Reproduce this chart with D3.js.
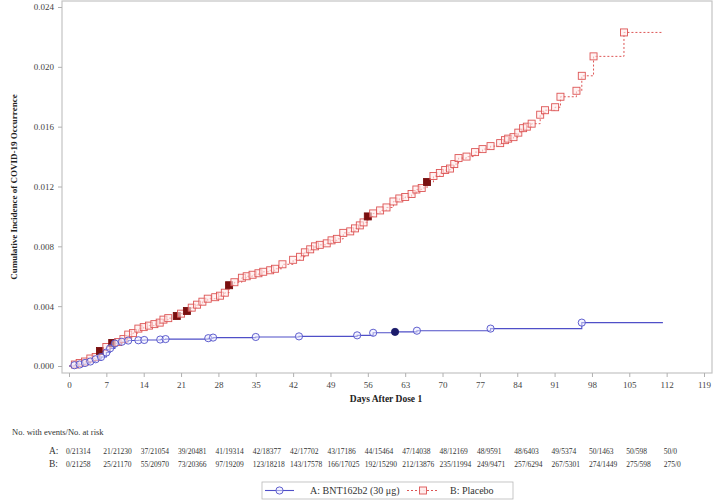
<!DOCTYPE html>
<html>
  <head>
    <meta charset="utf-8" />
    <title>Cumulative Incidence of COVID-19 Occurrence</title>
    <script src="https://d3js.org/d3.v7.min.js" charset="utf-8"></script>
    <style>
      html,
      body {
        margin: 0;
        padding: 0;
        background-color: #ffffff;
        font-family: "Liberation Serif", "DejaVu Serif", serif;
      }
    </style>
  </head>
  <body>
    <svg id="chart"></svg>
    <script>
      // ---- data ----
      // vaccine (A) event days and cumulative incidence
      const vacDays = [0, 1, 2, 3, 4, 5, 6, 7, 7.7, 8.6, 9.9, 11.1, 13, 14.1, 17.1, 18.1, 26.1, 27, 35, 43.1, 54, 57, 61.1, 65.2, 79, 96.1];
      const vacInc = [0, 0.00005, 0.0001, 0.0002, 0.0003, 0.00045, 0.0006, 0.0009, 0.00118, 0.0015, 0.00162, 0.0017, 0.00172, 0.00174, 0.00177, 0.0018, 0.00186, 0.0019, 0.00194, 0.00198, 0.00205, 0.00222, 0.00228, 0.00236, 0.0025, 0.0029];
      const vacFilled = [61.1];

      // placebo (B) event days and cumulative incidence
      const plaDays = [0, 1.1, 2, 3, 4, 5, 5.8, 7, 8.1, 9.2, 10.2, 11.1, 12, 13, 14, 15, 16, 17, 17.7, 18.6, 20.2, 21, 22.1, 23, 24, 25, 26, 27.4, 28.3, 29.2, 30, 31, 32.4, 33.3, 34.4, 35.5, 36.4, 37.7, 38.6, 40, 42, 43.3, 44.2, 45.2, 46.1, 47, 48.3, 49.2, 50.2, 51.4, 52.7, 53.6, 54.5, 55.2, 56, 57, 58.3, 59.5, 60.8, 61.9, 63, 64.2, 65.1, 66.1, 67.1, 68.3, 69.5, 70.5, 71.4, 72.2, 73, 74.5, 76.1, 77.5, 79, 80.8, 81.7, 82.3, 83.3, 84.2, 85.1, 85.8, 86.7, 88.3, 89.2, 91.1, 92.1, 95.1, 96.1, 98.3, 104];
      const plaInc = [0, 0.0001, 0.0002, 0.0003, 0.0005, 0.0006, 0.001, 0.00127, 0.00154, 0.0016, 0.0018, 0.0021, 0.0022, 0.0025, 0.0026, 0.0027, 0.0028, 0.0029, 0.0031, 0.0032, 0.00334, 0.0035, 0.00368, 0.0039, 0.0041, 0.0043, 0.0045, 0.0046, 0.0047, 0.0049, 0.0054, 0.0056, 0.0059, 0.006, 0.0061, 0.0062, 0.0063, 0.0064, 0.0065, 0.0068, 0.0071, 0.0073, 0.0076, 0.0078, 0.008, 0.0081, 0.0082, 0.0084, 0.0085, 0.0089, 0.009, 0.0092, 0.0094, 0.0096, 0.01, 0.0102, 0.0104, 0.0106, 0.011, 0.0112, 0.0113, 0.0115, 0.0118, 0.0119, 0.0123, 0.0127, 0.0129, 0.0131, 0.0132, 0.0135, 0.0139, 0.014, 0.0143, 0.0145, 0.0147, 0.0149, 0.0151, 0.0152, 0.0153, 0.0156, 0.0159, 0.016, 0.0162, 0.0168, 0.0171, 0.0173, 0.018, 0.0184, 0.0194, 0.0207, 0.0223];
      const plaFilled = [5.8, 8.1, 20.2, 22.1, 30, 56, 67.1];

      const lastDay = 111.3;

      // axis ticks
      const xTicks = d3.range(0, 120, 7);
      const yTicks = [0, 0.004, 0.008, 0.012, 0.016, 0.02, 0.024];

      // risk table
      const riskDays = d3.range(0, 113, 7);
      const riskA = ["0/21314", "21/21230", "37/21054", "39/20481", "41/19314", "42/18377", "42/17702", "43/17186", "44/15464", "47/14038", "48/12169", "48/9591", "48/6403", "49/5374", "50/1463", "50/598", "50/0"];
      const riskB = ["0/21258", "25/21170", "55/20970", "73/20366", "97/19209", "123/18218", "143/17578", "166/17025", "192/15290", "212/13876", "235/11994", "249/9471", "257/6294", "267/5301", "274/1449", "275/598", "275/0"];

      // ---- layout ----
      const width = 720;
      const height = 504;
      const frame = { left: 62, right: 712, top: 1, bottom: 373 };

      const blue = "#4f4fc8";
      const blueDark = "#1c1c6b";
      const red = "#dd5555";
      const redDark = "#7a1010";

      const svg = d3
        .select("#chart")
        .attr("width", width)
        .attr("height", height)
        .style("display", "block");

      const x = d3.scaleLinear().domain([0, 119]).range([69, 704]);
      const y = d3.scaleLinear().domain([0, 0.024]).range([366, 7]);

      // plot frame
      svg
        .append("rect")
        .attr("x", frame.left)
        .attr("y", frame.top)
        .attr("width", frame.right - frame.left)
        .attr("height", frame.bottom - frame.top)
        .attr("fill", "none")
        .attr("stroke", "#c4c4c4")
        .attr("stroke-width", 1.2);

      // y axis
      const yAxis = svg
        .append("g")
        .attr("transform", `translate(${frame.left},0)`)
        .call(
          d3
            .axisLeft(y)
            .tickValues(yTicks)
            .tickFormat(d3.format(".3f"))
            .tickSize(4)
            .tickSizeOuter(0)
        );
      yAxis.select(".domain").remove();
      yAxis.selectAll("line").attr("stroke", "#b0b0b0");
      yAxis
        .selectAll("text")
        .attr("font-family", "Liberation Serif")
        .attr("font-size", 9)
        .attr("fill", "#444")
        .attr("dx", "-1");

      // x axis
      const xAxis = svg
        .append("g")
        .attr("transform", `translate(0,${frame.bottom})`)
        .call(d3.axisBottom(x).tickValues(xTicks).tickSize(4).tickSizeOuter(0));
      xAxis.select(".domain").remove();
      xAxis.selectAll("line").attr("stroke", "#b0b0b0");
      xAxis
        .selectAll("text")
        .attr("font-family", "Liberation Serif")
        .attr("font-size", 9)
        .attr("fill", "#444")
        .attr("dy", "0.9em");

      // axis titles
      svg
        .append("text")
        .attr("transform", `translate(17,${(frame.top + frame.bottom) / 2}) rotate(-90)`)
        .attr("text-anchor", "middle")
        .attr("font-size", 9)
        .attr("font-weight", "bold")
        .attr("fill", "#222")
        .text("Cumulative Incidence of COVID-19 Occurrence");

      svg
        .append("text")
        .attr("x", 386)
        .attr("y", 402)
        .attr("text-anchor", "middle")
        .attr("font-size", 9.5)
        .attr("font-weight", "bold")
        .attr("fill", "#222")
        .text("Days After Dose 1");

      // curves
      const stepLine = d3
        .line()
        .x((d) => x(d[0]))
        .y((d) => y(d[1]))
        .curve(d3.curveStepAfter);

      const vacPts = vacDays.map((d, i) => [d, vacInc[i]]);
      const plaPts = plaDays.map((d, i) => [d, plaInc[i]]);

      svg
        .append("path")
        .datum(plaPts.concat([[lastDay, plaInc[plaInc.length - 1]]]))
        .attr("d", stepLine)
        .attr("fill", "none")
        .attr("stroke", red)
        .attr("stroke-width", 1)
        .attr("stroke-dasharray", "2,2");

      svg
        .append("path")
        .datum(vacPts.concat([[lastDay, vacInc[vacInc.length - 1]]]))
        .attr("d", stepLine)
        .attr("fill", "none")
        .attr("stroke", blue)
        .attr("stroke-width", 1.1);

      // placebo squares
      const sq = 7;
      svg
        .append("g")
        .selectAll("rect")
        .data(plaPts.slice(1))
        .enter()
        .append("rect")
        .attr("x", (d) => x(d[0]) - sq / 2)
        .attr("y", (d) => y(d[1]) - sq / 2)
        .attr("width", sq)
        .attr("height", sq)
        .attr("fill", (d) => (plaFilled.includes(d[0]) ? redDark : "rgba(255,235,235,0.6)"))
        .attr("stroke", (d) => (plaFilled.includes(d[0]) ? redDark : red))
        .attr("stroke-width", 0.9);

      // vaccine circles
      svg
        .append("g")
        .selectAll("circle")
        .data(vacPts.slice(1))
        .enter()
        .append("circle")
        .attr("cx", (d) => x(d[0]))
        .attr("cy", (d) => y(d[1]))
        .attr("r", 3.6)
        .attr("fill", (d) => (vacFilled.includes(d[0]) ? blueDark : "rgba(235,235,255,0.5)"))
        .attr("stroke", (d) => (vacFilled.includes(d[0]) ? blueDark : blue))
        .attr("stroke-width", 0.9);

      // risk table
      svg
        .append("text")
        .attr("x", 12)
        .attr("y", 435)
        .attr("font-size", 8.5)
        .attr("fill", "#333")
        .text("No. with events/No. at risk");

      const rows = [
        { label: "A:", vals: riskA, yy: 453.5 },
        { label: "B:", vals: riskB, yy: 466.5 },
      ];
      rows.forEach((r) => {
        svg
          .append("text")
          .attr("x", 49)
          .attr("y", r.yy)
          .attr("font-size", 9.5)
          .attr("fill", "#333")
          .text(r.label);
        svg
          .append("g")
          .selectAll("text")
          .data(r.vals)
          .enter()
          .append("text")
          .attr("x", (d, i) => x(riskDays[i]) - 3)
          .attr("y", r.yy)
          .attr("font-size", 7.5)
          .attr("fill", "#333")
          .text((d) => d);
      });

      // legend
      const leg = svg.append("g");
      leg
        .append("rect")
        .attr("x", 262)
        .attr("y", 482)
        .attr("width", 251)
        .attr("height", 17)
        .attr("fill", "#fff")
        .attr("stroke", "#b8b8b8")
        .attr("stroke-width", 0.8);
      const ly = 490.5;
      leg
        .append("line")
        .attr("x1", 265)
        .attr("x2", 294)
        .attr("y1", ly)
        .attr("y2", ly)
        .attr("stroke", blue)
        .attr("stroke-width", 1.1);
      leg
        .append("circle")
        .attr("cx", 279.5)
        .attr("cy", ly)
        .attr("r", 3.6)
        .attr("fill", "rgba(235,235,255,0.5)")
        .attr("stroke", blue)
        .attr("stroke-width", 0.9);
      leg
        .append("text")
        .attr("x", 310)
        .attr("y", ly + 3.5)
        .attr("font-size", 10)
        .attr("fill", "#333")
        .text("A: BNT162b2 (30 μg)");
      leg
        .append("line")
        .attr("x1", 407)
        .attr("x2", 439)
        .attr("y1", ly)
        .attr("y2", ly)
        .attr("stroke", red)
        .attr("stroke-width", 1)
        .attr("stroke-dasharray", "2,2");
      leg
        .append("rect")
        .attr("x", 423 - sq / 2)
        .attr("y", ly - sq / 2)
        .attr("width", sq)
        .attr("height", sq)
        .attr("fill", "rgba(255,235,235,0.9)")
        .attr("stroke", red)
        .attr("stroke-width", 0.9);
      leg
        .append("text")
        .attr("x", 450)
        .attr("y", ly + 3.5)
        .attr("font-size", 10)
        .attr("fill", "#333")
        .text("B: Placebo");
    </script>
  </body>
</html>
